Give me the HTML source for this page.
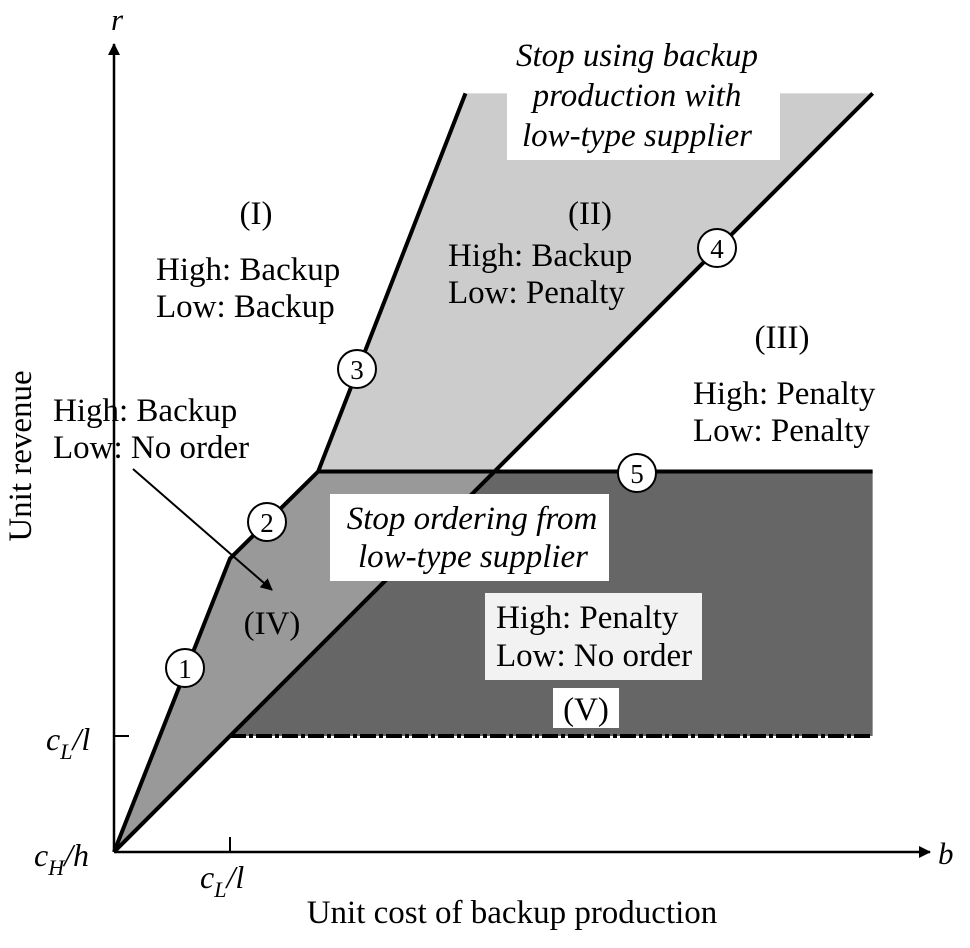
<!DOCTYPE html>
<html><head><meta charset="utf-8"><style>
html,body{margin:0;padding:0;background:#fff;}
svg{display:block;font-family:"Liberation Serif",serif;}
</style></head><body>
<svg id="c" width="970" height="948" viewBox="0 0 970 948">
<defs><marker id="ah" markerWidth="12" markerHeight="12" refX="11" refY="6" orient="auto" markerUnits="userSpaceOnUse"><path d="M0,0 L12,6 L0,12 z" fill="#000"/></marker></defs>
<g id="regions"></g>
<g id="lines"></g>
<g id="labels"></g>
</svg>
<script>
// data (units of c_L/l, origin at c_H/h)
const boundaryB = [0, 1.0, 1.76, 3.03];
const boundaryR = [0, 2.53, 3.28, 6.54];
const diagEnd = 6.54;
const line5R = 3.28;
const line5End = 6.54;
const floorR = 1.0;
const xTickVals = [1.0];
const xTickLabels = ["c_L/l"];

const X0=114, Y0=852, U=116;
const x=b=>X0+b*U, y=r=>Y0-r*U;
const NS="http://www.w3.org/2000/svg";
function mk(tag,attrs,parent){const e=document.createElementNS(NS,tag);for(const k in attrs)e.setAttribute(k,attrs[k]);parent.appendChild(e);return e;}
const R=document.getElementById('regions'),L=document.getElementById('lines'),T=document.getElementById('labels');
const pts=a=>a.map(p=>x(p[0])+','+y(p[1])).join(' ');
const kink=boundaryB.map((b,i)=>[b,boundaryR[i]]);
let e=mk('polygon',{points:pts([kink[2],kink[3],[diagEnd,diagEnd],[line5R,line5R]]),fill:'#cccccc'},R);


e=mk('polygon',{points:pts([kink[0],kink[1],kink[2],[line5R,line5R]]),fill:'#999999'},R);


e=mk('polygon',{points:pts([[floorR,floorR],[line5R,line5R],[line5End,line5R],[line5End,floorR]]),fill:'#666666'},R);


e=mk('line',{x1:x(floorR),y1:y(floorR),x2:x(line5End),y2:y(floorR),stroke:'#000','stroke-width':4,'stroke-dasharray':'16 3 4 3'},L);


e=mk('line',{x1:X0,y1:Y0,x2:X0,y2:44,stroke:'#000','stroke-width':2.5,'marker-end':'url(#ah)'},L);


e=mk('line',{x1:X0,y1:Y0,x2:930,y2:Y0,stroke:'#000','stroke-width':2.5,'marker-end':'url(#ah)'},L);


xTickVals.forEach(v=>{
  const t=mk('line',{x1:x(v),y1:Y0,x2:x(v),y2:Y0-15,stroke:'#000','stroke-width':2},L);
  
  
});
e=mk('line',{x1:X0,y1:y(floorR),x2:X0+15,y2:y(floorR),stroke:'#000','stroke-width':2},L);


e=mk('polyline',{points:pts(kink),fill:'none',stroke:'#000','stroke-width':4,'stroke-linejoin':'miter'},L);


e=mk('line',{x1:x(0),y1:y(0),x2:x(diagEnd),y2:y(diagEnd),stroke:'#000','stroke-width':4},L);


e=mk('line',{x1:x(boundaryB[2]),y1:y(line5R),x2:x(line5End),y2:y(line5R),stroke:'#000','stroke-width':4},L);


e=mk('line',{x1:133,y1:469,x2:272,y2:590,stroke:'#000','stroke-width':2,'marker-end':'url(#ah)'},L);


</script>
<script>
const S=document.getElementById('c');
S.insertAdjacentHTML('beforeend',`
<rect x="507" y="93" width="273" height="67" fill="#fff"/>
<text x="637" y="66" text-anchor="middle" font-size="33" font-style="italic"><tspan x="637" dy="0">Stop using backup</tspan><tspan x="637" dy="40">production with</tspan><tspan x="637" dy="40">low-type supplier</tspan></text>
<rect x="330" y="494" width="279" height="87" fill="#fff"/>
<text x="472" y="529" text-anchor="middle" font-size="33" font-style="italic"><tspan x="472" dy="0">Stop ordering from</tspan><tspan x="473" dy="38">low-type supplier</tspan></text>
<rect x="485" y="593" width="217" height="87" fill="#f2f2f2"/>
<text x="496" y="628" font-size="33"><tspan x="496" dy="0">High: Penalty</tspan><tspan x="496" dy="38">Low: No order</tspan></text>
<rect x="553" y="688" width="66" height="40" fill="#fff"/>
<text x="586" y="720" text-anchor="middle" font-size="33">(V)</text>
<text x="256" y="224" text-anchor="middle" font-size="33">(I)</text>
<text x="156" y="280" font-size="33"><tspan x="156" dy="0">High: Backup</tspan><tspan x="156" dy="37">Low: Backup</tspan></text>
<text x="590" y="224" text-anchor="middle" font-size="33">(II)</text>
<text x="448" y="266" font-size="33"><tspan x="448" dy="0">High: Backup</tspan><tspan x="448" dy="37">Low: Penalty</tspan></text>
<text x="782" y="348" text-anchor="middle" font-size="33">(III)</text>
<text x="693" y="404" font-size="33"><tspan x="693" dy="0">High: Penalty</tspan><tspan x="693" dy="37">Low: Penalty</tspan></text>
<text x="53" y="421" font-size="33"><tspan x="53" dy="0">High: Backup</tspan><tspan x="53" dy="37">Low: No order</tspan></text>
<text x="272" y="634" text-anchor="middle" font-size="33">(IV)</text>
<g><circle cx="185" cy="668" r="19" fill="#fff" stroke="#000" stroke-width="2"/><text x="185" y="678" text-anchor="middle" font-size="27">1</text></g>
<g><circle cx="267" cy="522" r="19" fill="#fff" stroke="#000" stroke-width="2"/><text x="267" y="532" text-anchor="middle" font-size="27">2</text></g>
<g><circle cx="357" cy="369" r="19" fill="#fff" stroke="#000" stroke-width="2"/><text x="357" y="379" text-anchor="middle" font-size="27">3</text></g>
<g><circle cx="717" cy="248" r="19" fill="#fff" stroke="#000" stroke-width="2"/><text x="717" y="258" text-anchor="middle" font-size="27">4</text></g>
<g><circle cx="637" cy="473" r="19" fill="#fff" stroke="#000" stroke-width="2"/><text x="637" y="483" text-anchor="middle" font-size="27">5</text></g>
<text x="117" y="30" text-anchor="middle" font-size="31" font-style="italic">r</text>
<text x="938" y="864" font-size="31" font-style="italic">b</text>
<text x="46" y="750" font-size="32" font-style="italic">c<tspan font-size="22" dy="9">L</tspan><tspan dy="-9">/l</tspan></text>
<text x="34" y="866" font-size="32" font-style="italic">c<tspan font-size="22" dy="9">H</tspan><tspan dy="-9">/h</tspan></text>
<text x="200" y="888" font-size="32" font-style="italic">c<tspan font-size="22" dy="9">L</tspan><tspan dy="-9">/l</tspan></text>
<text x="512" y="923" text-anchor="middle" font-size="33">Unit cost of backup production</text>
<text transform="translate(31,456) rotate(-90)" text-anchor="middle" font-size="33">Unit revenue</text>
`);
</script>
</body></html>
